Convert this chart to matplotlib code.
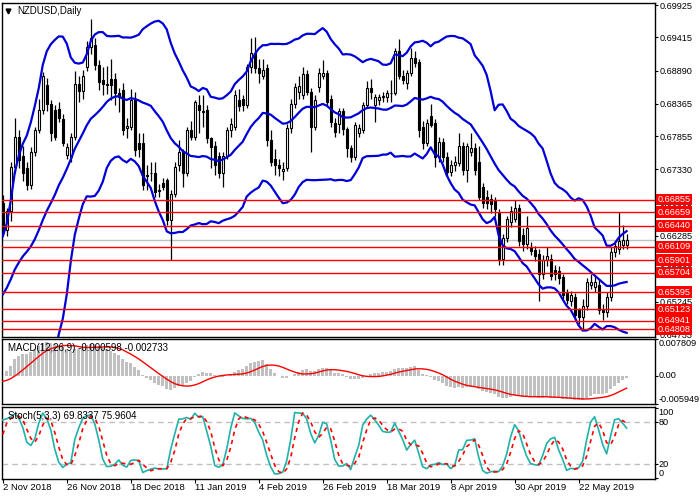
import numpy as np
import pandas as pd
import matplotlib
matplotlib.use("Agg")
import matplotlib.pyplot as plt
import matplotlib.transforms as mtransforms

plt.rcParams['font.family'] = ['Liberation Sans', 'DejaVu Sans']

# closes before 2 Nov 2018 (off the chart), only used to warm up the indicators
prior_close = [0.6610, 0.6570, 0.6560, 0.6575, 0.6525, 0.6520, 0.6530, 0.6545, 0.6575, 0.6540,
               0.6575, 0.6600, 0.6640, 0.6690, 0.6660, 0.6655, 0.6670, 0.6680, 0.6625, 0.6625,
               0.6590, 0.6570, 0.6530, 0.6530, 0.6495, 0.6460, 0.6465, 0.6480, 0.6525, 0.6535,
               0.6560, 0.6595, 0.6570, 0.6540, 0.6560, 0.6545, 0.6545, 0.6530, 0.6510, 0.6535,
               0.6495, 0.6480, 0.6535, 0.6615]
prior_high = [np.nan] * 35 + [0.6570, 0.6560, 0.6560, 0.6540, 0.6545, 0.6540, 0.6500, 0.6540, 0.6625]
prior_low = [np.nan] * 35 + [0.6530, 0.6505, 0.6520, 0.6500, 0.6490, 0.6485, 0.6470, 0.6470, 0.6520]

# daily bars shown on the chart
opens = [0.6680, 0.6637, 0.6668, 0.6737, 0.6785, 0.6755, 0.6735, 0.6708, 0.6761, 0.6796,
         0.6827, 0.6866, 0.6836, 0.6827, 0.6829, 0.6813, 0.6756, 0.6753, 0.6785, 0.6868,
         0.6857, 0.6895, 0.6926, 0.6930, 0.6898, 0.6874, 0.6868, 0.6876, 0.6875, 0.6853,
         0.6858, 0.6798, 0.6800, 0.6843, 0.6775, 0.6775, 0.6722, 0.6727, 0.6728, 0.6699,
         0.6712, 0.6716, 0.6653, 0.6695, 0.6740, 0.6760, 0.6728, 0.6795, 0.6785, 0.6835,
         0.6824, 0.6827, 0.6782, 0.6770, 0.6755, 0.6728, 0.6755, 0.6795, 0.6800, 0.6843,
         0.6845, 0.6835, 0.6895, 0.6917, 0.6893, 0.6880, 0.6893, 0.6780, 0.6750, 0.6740,
         0.6731, 0.6735, 0.6798, 0.6837, 0.6855, 0.6850, 0.6883, 0.6856, 0.6800, 0.6863,
         0.6880, 0.6885, 0.6845, 0.6806, 0.6805, 0.6825, 0.6797, 0.6767, 0.6753, 0.6790,
         0.6795, 0.6835, 0.6862, 0.6835, 0.6842, 0.6847, 0.6848, 0.6853, 0.6853, 0.6920,
         0.6880, 0.6870, 0.6885, 0.6909, 0.6902, 0.6800, 0.6775, 0.6818, 0.6806, 0.6753,
         0.6777, 0.6753, 0.6729, 0.6740, 0.6743, 0.6770, 0.6732, 0.6760, 0.6767, 0.6745,
         0.6705, 0.6690, 0.6686, 0.6683, 0.6665, 0.6592, 0.6625, 0.6650, 0.6655, 0.6672,
         0.6630, 0.6615, 0.6610, 0.6606, 0.6600, 0.6568, 0.6590, 0.6592, 0.6575, 0.6573,
         0.6563, 0.6538, 0.6525, 0.6532, 0.6511, 0.6500, 0.6518, 0.6550, 0.6548, 0.6550,
         0.6512, 0.6508, 0.6532, 0.6603, 0.6608, 0.6614, 0.6614]
highs = [0.6692, 0.6672, 0.6745, 0.6815, 0.6795, 0.6770, 0.6745, 0.6768, 0.6800, 0.6845,
         0.6887, 0.6878, 0.6842, 0.6835, 0.6840, 0.6820, 0.6775, 0.6790, 0.6888, 0.6880,
         0.6890, 0.6935, 0.6971, 0.6940, 0.6905, 0.6895, 0.6896, 0.6908, 0.6885, 0.6862,
         0.6870, 0.6815, 0.6860, 0.6855, 0.6790, 0.6790, 0.6740, 0.6745, 0.6745, 0.6710,
         0.6720, 0.6720, 0.6700, 0.6745, 0.6780, 0.6765, 0.6800, 0.6810, 0.6843, 0.6850,
         0.6850, 0.6835, 0.6785, 0.6778, 0.6760, 0.6760, 0.6800, 0.6815, 0.6858, 0.6860,
         0.6850, 0.6900, 0.6940, 0.6942, 0.6908, 0.6908, 0.6900, 0.6795, 0.6765, 0.6750,
         0.6745, 0.6805, 0.6845, 0.6870, 0.6880, 0.6895, 0.6890, 0.6862, 0.6850, 0.6893,
         0.6905, 0.6890, 0.6850, 0.6815, 0.6830, 0.6830, 0.6800, 0.6772, 0.6808, 0.6805,
         0.6840, 0.6872, 0.6875, 0.6852, 0.6852, 0.6855, 0.6858, 0.6874, 0.6925, 0.6939,
         0.6890, 0.6890, 0.6925, 0.6920, 0.6908, 0.6810, 0.6812, 0.6837, 0.6812, 0.6785,
         0.6782, 0.6760, 0.6748, 0.6755, 0.6790, 0.6776, 0.6775, 0.6790, 0.6775, 0.6770,
         0.6712, 0.6700, 0.6695, 0.6690, 0.6670, 0.6632, 0.6660, 0.6675, 0.6685, 0.6678,
         0.6640, 0.6660, 0.6618, 0.6612, 0.6608, 0.6598, 0.6610, 0.6600, 0.6582, 0.6580,
         0.6568, 0.6545, 0.6542, 0.6538, 0.6515, 0.6528, 0.6562, 0.6568, 0.6565, 0.6558,
         0.6520, 0.6540, 0.6610, 0.6620, 0.6666, 0.6645, 0.6632]
lows = [0.6630, 0.6628, 0.6652, 0.6728, 0.6735, 0.6715, 0.6700, 0.6702, 0.6755, 0.6790,
        0.6820, 0.6825, 0.6778, 0.6780, 0.6808, 0.6770, 0.6750, 0.6745, 0.6780, 0.6840,
        0.6845, 0.6888, 0.6915, 0.6890, 0.6858, 0.6850, 0.6852, 0.6843, 0.6835, 0.6823,
        0.6787, 0.6782, 0.6795, 0.6755, 0.6752, 0.6700, 0.6700, 0.6715, 0.6690, 0.6690,
        0.6700, 0.6645, 0.6590, 0.6690, 0.6730, 0.6705, 0.6722, 0.6780, 0.6780, 0.6790,
        0.6800, 0.6775, 0.6735, 0.6724, 0.6720, 0.6705, 0.6750, 0.6785, 0.6795, 0.6825,
        0.6825, 0.6830, 0.6885, 0.6885, 0.6870, 0.6875, 0.6770, 0.6738, 0.6725, 0.6722,
        0.6716, 0.6730, 0.6790, 0.6830, 0.6845, 0.6845, 0.6850, 0.6760, 0.6795, 0.6855,
        0.6875, 0.6835, 0.6800, 0.6785, 0.6790, 0.6788, 0.6752, 0.6745, 0.6748, 0.6785,
        0.6790, 0.6830, 0.6845, 0.6808, 0.6835, 0.6840, 0.6840, 0.6840, 0.6850, 0.6875,
        0.6868, 0.6860, 0.6880, 0.6895, 0.6785, 0.6765, 0.6770, 0.6800, 0.6737, 0.6745,
        0.6745, 0.6722, 0.6722, 0.6730, 0.6738, 0.6725, 0.6713, 0.6755, 0.6725, 0.6685,
        0.6672, 0.6670, 0.6665, 0.6660, 0.6583, 0.6583, 0.6618, 0.6642, 0.6650, 0.6612,
        0.6605, 0.6608, 0.6598, 0.6588, 0.6525, 0.6560, 0.6580, 0.6558, 0.6558, 0.6552,
        0.6528, 0.6520, 0.6518, 0.6498, 0.6490, 0.6480, 0.6512, 0.6545, 0.6540, 0.6505,
        0.6495, 0.6500, 0.6525, 0.6595, 0.6600, 0.6608, 0.6608]
closes = [0.6637, 0.6668, 0.6737, 0.6785, 0.6748, 0.6728, 0.6708, 0.6761, 0.6796, 0.6827,
          0.6880, 0.6836, 0.6790, 0.6785, 0.6815, 0.6775, 0.6769, 0.6785, 0.6868, 0.6857,
          0.6880, 0.6926, 0.6940, 0.6898, 0.6871, 0.6868, 0.6866, 0.6866, 0.6853, 0.6848,
          0.6795, 0.6801, 0.6843, 0.6764, 0.6766, 0.6708, 0.6724, 0.6728, 0.6697, 0.6701,
          0.6705, 0.6653, 0.6695, 0.6737, 0.6760, 0.6728, 0.6795, 0.6785, 0.6840, 0.6827,
          0.6826, 0.6783, 0.6768, 0.6740, 0.6728, 0.6755, 0.6795, 0.6805, 0.6850, 0.6833,
          0.6835, 0.6895, 0.6917, 0.6893, 0.6885, 0.6890, 0.6780, 0.6745, 0.6740, 0.6735,
          0.6734, 0.6798, 0.6837, 0.6863, 0.6865, 0.6883, 0.6856, 0.6800, 0.6843, 0.6885,
          0.6885, 0.6840, 0.6808, 0.6792, 0.6825, 0.6797, 0.6767, 0.6753, 0.6803, 0.6798,
          0.6835, 0.6862, 0.6856, 0.6848, 0.6848, 0.6849, 0.6853, 0.6854, 0.6920, 0.6880,
          0.6874, 0.6885, 0.6909, 0.6901, 0.6795, 0.6775, 0.6806, 0.6803, 0.6753, 0.6777,
          0.6753, 0.6729, 0.6740, 0.6745, 0.6770, 0.6732, 0.6770, 0.6767, 0.6732, 0.6690,
          0.6680, 0.6680, 0.6678, 0.6670, 0.6592, 0.6625, 0.6655, 0.6668, 0.6672, 0.6620,
          0.6615, 0.6640, 0.6604, 0.6596, 0.6568, 0.6590, 0.6597, 0.6565, 0.6568, 0.6562,
          0.6535, 0.6527, 0.6535, 0.6504, 0.6500, 0.6518, 0.6555, 0.6556, 0.6556, 0.6511,
          0.6508, 0.6532, 0.6603, 0.6612, 0.6620, 0.6622, 0.6621]

levels = [0.66855, 0.66659, 0.66440, 0.66109, 0.65901, 0.65704, 0.65395, 0.65123, 0.64941, 0.64808]
price_ticks = [0.69925, 0.69415, 0.68890, 0.68365, 0.67855, 0.67330, 0.66805, 0.66285, 0.65760, 0.65245, 0.64733]
date_labels = ['2 Nov 2018', '26 Nov 2018', '18 Dec 2018', '11 Jan 2019', '4 Feb 2019',
               '26 Feb 2019', '18 Mar 2019', '8 Apr 2019', '30 Apr 2019', '22 May 2019']
date_step = 16

# indicators: Bollinger(20,2), MACD(12,26,9), Stochastic(5,3,3)
n0 = len(prior_close)
c_all = pd.Series(prior_close + closes)
h_all = pd.Series(prior_high + highs)
l_all = pd.Series(prior_low + lows)

mid = c_all.rolling(20).mean()
sd = c_all.rolling(20).std(ddof=0)
bb_up = (mid + 2 * sd)[n0:].values
bb_mid = mid[n0:].values
bb_dn = (mid - 2 * sd)[n0:].values

macd_all = c_all.ewm(span=12, adjust=False).mean() - c_all.ewm(span=26, adjust=False).mean()
macd_sig = macd_all.rolling(9).mean()[n0:].values
macd_main = macd_all[n0:].values

ll = l_all.rolling(5).min()
hh = h_all.rolling(5).max()
k_all = 100 * (c_all - ll).rolling(3).sum() / (hh - ll).rolling(3).sum()
d_all = k_all.rolling(3).mean()
st_k = k_all[n0:].values
st_d = d_all[n0:].values

x = np.arange(len(closes))
o = np.array(opens)
c = np.array(closes)
up = c >= o

fig = plt.figure(figsize=(7, 5), dpi=100)
ax = fig.add_axes([2 / 700, 1 - 337 / 500, 653 / 700, 334 / 500])
ax2 = fig.add_axes([2 / 700, 1 - 404 / 500, 653 / 700, 65 / 500])
ax3 = fig.add_axes([2 / 700, 1 - 479 / 500, 653 / 700, 72 / 500])

xlim = (-0.2, 163.1)
fs_right = 6.6

# --- price panel
ax.axhline(closes[-1], color='#c0c0c0', lw=1, zorder=1)
ax.vlines(x, lows, highs, color='black', lw=0.9, zorder=3)
body = np.abs(c - o)
body = np.where(body < 0.00004, 0.00004, body)
ax.bar(x[up], body[up], bottom=o[up], width=0.55, color='white', edgecolor='black', lw=0.8, zorder=3)
ax.bar(x[~up], body[~up], bottom=c[~up], width=0.55, color='black', edgecolor='black', lw=0.8, zorder=3)
for band in (bb_up, bb_mid, bb_dn):
    ax.plot(x, band, color='#0000d8', lw=1.6, zorder=4)
for lev in levels:
    ax.axhline(lev, color='red', lw=1, zorder=5)

ax.set_xlim(*xlim)
ax.set_ylim(0.64687, 0.69957)
ax.set_xticks([])
ax.yaxis.tick_right()
ax.set_yticks(price_ticks)
ax.set_yticklabels([f"{v:.5f}" for v in price_ticks])
ax.tick_params(axis='y', length=2.2, pad=1, labelsize=fs_right, colors='black')

tr = mtransforms.blended_transform_factory(ax.transAxes, ax.transData)
for lev in levels:
    ax.text(1.004, lev, f"{lev:.5f}", transform=tr, color='white', fontsize=fs_right,
            va='center', ha='left', clip_on=False, zorder=10,
            bbox=dict(boxstyle='square,pad=0.14', fc='#ff0000', ec='none'))

ax.plot([8 / 700], [1 - 10.5 / 500], marker='v', color='black', ms=3.5,
        transform=fig.transFigure, clip_on=False)
fig.text(17 / 700, 1 - 10.5 / 500, 'NZDUSD,Daily', fontsize=7, va='center', ha='left')

# --- MACD panel
macd_top, macd_bot = 0.007809, -0.005949
ax2.bar(x, macd_main, width=0.7, color='#c0c0c0', zorder=2)
ax2.plot(x, macd_sig, color='red', lw=1, zorder=3)
ax2.set_xlim(*xlim)
ax2.set_ylim(macd_bot, macd_top)
ax2.set_xticks([])
ax2.yaxis.tick_right()
ax2.set_yticks([macd_top, 0.0, macd_bot])
ax2.tick_params(axis='y', length=2.2, labelright=False)
tr2 = mtransforms.blended_transform_factory(ax2.transAxes, ax2.transData)
ax2.text(1.005, macd_top, '0.007809', transform=tr2, fontsize=fs_right, va='top', ha='left')
ax2.text(1.005, 0.0, '0.00', transform=tr2, fontsize=fs_right, va='center', ha='left')
ax2.text(1.005, macd_bot, '-0.005949', transform=tr2, fontsize=fs_right, va='bottom', ha='left')
ax2.text(6 / 653, 0.86, 'MACD(12,26,9) -0.000598 -0.002733', transform=ax2.transAxes,
         fontsize=7, va='center', ha='left')

# --- Stochastic panel
ax3.axhline(80, color='#c0c0c0', lw=1, ls=(0, (4, 3)), zorder=1)
ax3.axhline(20, color='#c0c0c0', lw=1, ls=(0, (4, 3)), zorder=1)
ax3.plot(x, st_k, color='#20b2aa', lw=1.2, zorder=3)
ax3.plot(x, st_d, color='red', lw=1.2, ls=(0, (2.5, 2.5)), zorder=3)
ax3.set_xlim(*xlim)
ax3.set_ylim(-1.5, 102)
ax3.yaxis.tick_right()
ax3.set_yticks([100, 80, 20, 0])
ax3.tick_params(axis='y', length=2.2, labelright=False)
tr3 = mtransforms.blended_transform_factory(ax3.transAxes, ax3.transData)
ax3.text(1.005, 100, '100', transform=tr3, fontsize=fs_right, va='top', ha='left')
ax3.text(1.005, 80, '80', transform=tr3, fontsize=fs_right, va='center', ha='left')
ax3.text(1.005, 20, '20', transform=tr3, fontsize=fs_right, va='center', ha='left')
ax3.text(1.005, 0, '0', transform=tr3, fontsize=fs_right, va='bottom', ha='left')
ax3.text(6 / 653, 0.88, 'Stoch(5,3,3) 69.8337 75.9604', transform=ax3.transAxes,
         fontsize=7, va='center', ha='left')

tick_pos = [i * date_step for i in range(len(date_labels))]
ax3.set_xticks(tick_pos)
ax3.tick_params(axis='x', length=3, labelbottom=False)
trx = mtransforms.blended_transform_factory(ax3.transData, ax3.transAxes)
for p, lab in zip(tick_pos, date_labels):
    ax3.text(p, -0.06, lab, transform=trx, fontsize=6.8, va='top', ha='left', clip_on=False)

for a in (ax, ax2, ax3):
    for s in a.spines.values():
        s.set_linewidth(1)
        s.set_color('black')

fig.savefig('out.png', dpi=100)
